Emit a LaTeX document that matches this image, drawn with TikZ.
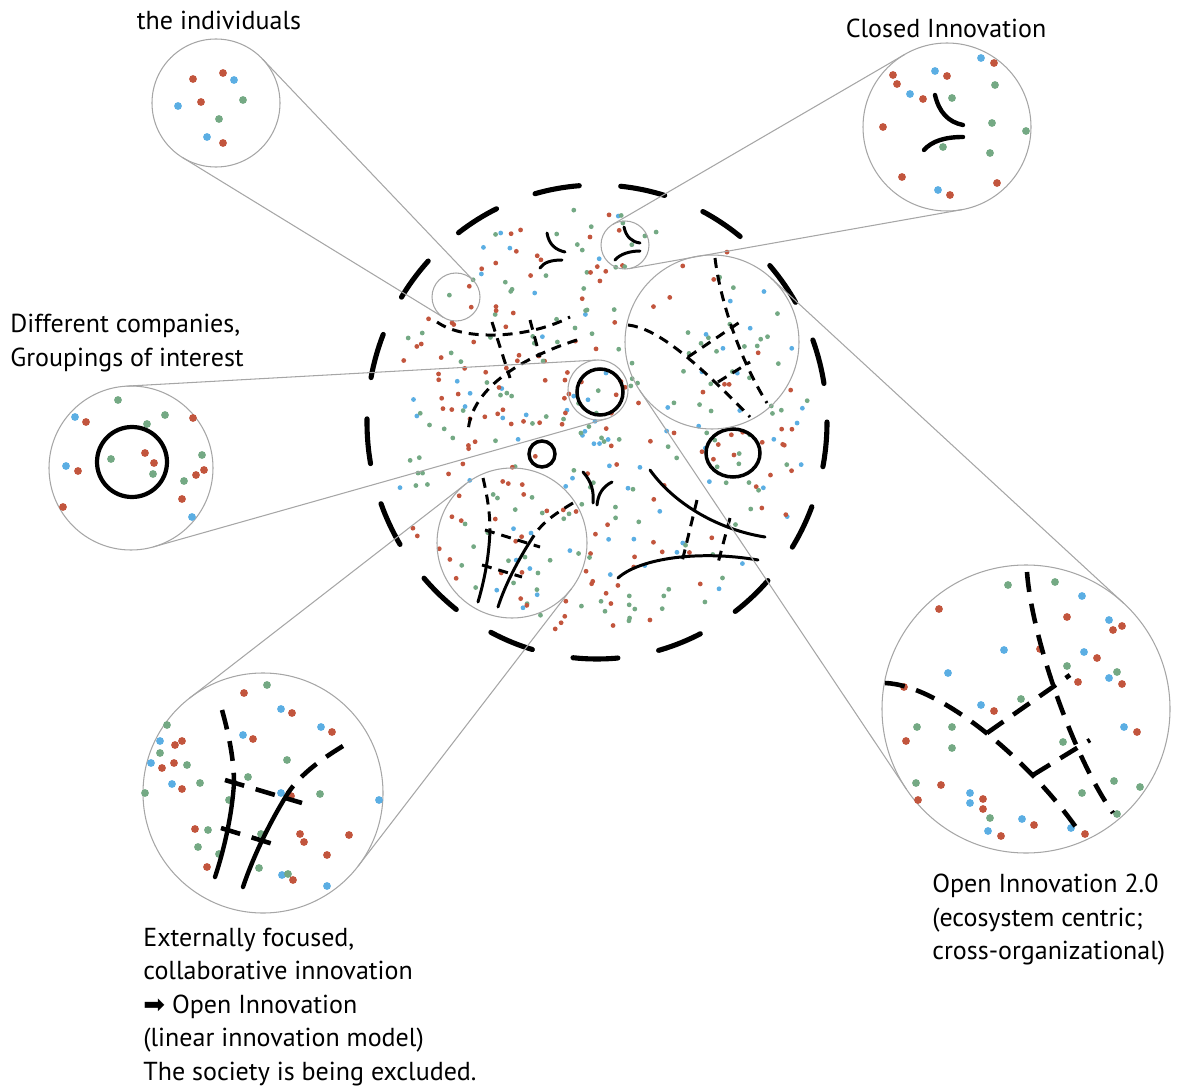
\documentclass[tikz,border=0pt]{standalone}
\usepackage{fontspec}
\setmainfont{PT Sans}
\newfontfamily\arrowglyph{DejaVu Sans}
\usetikzlibrary{calc}

\definecolor{dotr}{HTML}{C2553D}
\definecolor{dotg}{HTML}{74A984}
\definecolor{dotb}{HTML}{5BAEE3}

% tangent lines joining a small lens circle to its magnified copy
\newcommand\lens[4]{%
	\draw[lensline] let \p1=(#1), \p2=(#3),
		\n1={atan2(\y2-\y1,\x2-\x1)},
		\n2={acos((#2-#4)*28.45274/veclen(\x2-\x1,\y2-\y1))} in
		($(#1)+(\n1+\n2:#2cm)$) -- ($(#3)+(\n1+\n2:#4cm)$)
		($(#1)+(\n1-\n2:#2cm)$) -- ($(#3)+(\n1-\n2:#4cm)$);
}

\begin{document}
\begin{tikzpicture}[
			x=0.02cm, y=-0.02cm,
			captext/.style={font=\fontsize{14.8}{19.1}\selectfont, inner sep=0pt},
			lensline/.style={draw=black!35, line width=0.6pt},
			society/.style={line width=2.9pt, line cap=round, dash pattern=on 0.9cm off 0.83cm},
			netdash/.style={line width=1.7pt, dash pattern=on 0.2cm off 0.14cm},
			bignetdash/.style={line width=2.6pt, dash pattern=on 0.4cm off 0.24cm},
			tie/.style={line width=1.7pt, line cap=round},
			bigtie/.style={line width=2.5pt, line cap=round},
			company/.style={line width=2pt},
			bigcompany/.style={line width=2.4pt},
			dot/.style={radius=2.4},
			bigdot/.style={radius=3.9}
		]
		\useasboundingbox (0,0) rectangle (1180,1091);

		% centres of the lenses
		\coordinate (hub) at (597,422);
		\coordinate (indS) at (456,297);
		\coordinate (indB) at (216,103);
		\coordinate (cloS) at (625,245);
		\coordinate (cloB) at (947,127);
		\coordinate (comS) at (598,390);
		\coordinate (comB) at (131,468);
		\coordinate (oiS) at (512,543);
		\coordinate (oiB) at (263,793);
		\coordinate (twoS) at (712,342);
		\coordinate (twoB) at (1026,709);

		% the society: scattered actors
		\pgfmathsetseed{11}
		\pgfmathdeclarerandomlist{dotcols}{{dotr}{dotr}{dotg}{dotg}{dotb}}
		\foreach \i in {1,...,380}{
				\pgfmathsetmacro\ang{360*rnd}
				\pgfmathsetmacro\rad{214*sqrt(rnd)}
				\pgfmathrandomitem\col{dotcols}
				\fill[\col] ($(hub)+(\ang:\rad)$) circle[dot];
			}
		\draw[society] (hub) ellipse[x radius=230, y radius=237];

		% network of ties, upper left
		\draw[netdash] (437,322) .. controls (465,342) and (530,338) .. (570,317);
		\draw[netdash] (492,322) -- (510,378);
		\draw[netdash] (530,320) -- (540,357);
		\draw[netdash] (577,340) .. controls (530,355) and (470,385) .. (468,433);

		% closed innovation
		\draw[tie] (547,233) .. controls (549,245) and (556,250) .. (565,252);
		\draw[tie] (540,268) .. controls (544,262) and (552,260) .. (562,260);
		\draw[tie] (624,227) .. controls (626,237) and (632,242) .. (640,243);
		\draw[tie] (615,260) .. controls (620,254) and (630,251) .. (640,251);

		% companies
		\draw[company] (600,392) circle[radius=23];
		\draw[company] (542,454) circle[radius=13];
		\draw[company] (733,453) ellipse[x radius=27, y radius=24];

		% two bending ties
		\draw[tie] (583,472) .. controls (592,482) and (594,492) .. (593,503);
		\draw[tie] (612,482) .. controls (602,487) and (598,495) .. (597,505);

		% solid ties, lower right
		\draw[tie] (650,470) .. controls (675,505) and (720,530) .. (765,537);
		\draw[tie] (618,578) .. controls (640,558) and (700,550) .. (758,560);
		\draw[netdash] (697,500) -- (682,562);
		\draw[netdash] (730,518) -- (718,563);

		% open innovation, small
		\draw[netdash] (483,478) .. controls (487,495) and (490,512) .. (490,530);
		\draw[tie] (490,530) .. controls (489,560) and (483,585) .. (478,602);
		\draw[netdash] (573,503) .. controls (558,512) and (542,522) .. (533,537);
		\draw[tie] (533,537) .. controls (518,560) and (505,585) .. (498,607);
		\draw[netdash] (485,530) -- (540,547);
		\draw[netdash] (482,565) -- (522,577);

		% open innovation 2.0, small
		\draw[netdash] (628,325) .. controls (655,328) and (690,355) .. (750,417);
		\draw[netdash] (715,258) .. controls (720,300) and (740,360) .. (767,403);
		\draw[netdash] (688,357) -- (740,322);
		\draw[netdash] (718,382) -- (750,362);

		% lenses
		\lens{indS}{0.48}{indB}{1.28}
		\lens{cloS}{0.48}{cloB}{1.68}
		\lens{comS}{0.6}{comB}{1.64}
		\lens{oiS}{1.5}{oiB}{2.4}
		\lens{twoS}{1.74}{twoB}{2.88}
		\draw[lensline] (indS) circle[radius=24];
		\draw[lensline] (cloS) circle[radius=24];
		\draw[lensline] (comS) circle[radius=30];
		\draw[lensline] (oiS) circle[radius=75];
		\draw[lensline] (twoS) circle[radius=87];
		\draw[lensline] (indB) circle[radius=64];
		\draw[lensline] (cloB) circle[radius=84];
		\draw[lensline] (comB) circle[radius=82];
		\draw[lensline] (oiB) circle[radius=120];
		\draw[lensline] (twoB) circle[radius=144];

		% the individuals, magnified
		\foreach \x/\y/\c in {193/79/r, 223/73/r, 234/80/b, 178/106/b, 201/102/r,
				243/100/g, 219/119/g, 207/137/b, 223/143/r}
			\fill[dot\c] (\x,\y) circle[bigdot];

		% closed innovation, magnified
		\foreach \x/\y/\c in {893/75/r, 897/84/r, 935/71/b, 947/76/r, 981/58/b, 994/63/r,
				995/85/g, 910/94/b, 923/99/r, 952/98/g, 883/127/r, 992/123/g, 1026/131/g,
				943/147/g, 990/153/g, 902/177/r, 997/183/r, 938/190/b, 950/195/r}
			\fill[dot\c] (\x,\y) circle[bigdot];
		\draw[bigtie] (935,95) .. controls (939,112) and (948,122) .. (963,125);
		\draw[bigtie] (924,150) .. controls (932,141) and (945,137) .. (963,137);

		% companies, magnified
		\foreach \x/\y/\c in {118/400/g, 75/417/b, 86/422/r, 165/415/g, 193/418/r, 147/424/g,
				111/459/g, 145/453/r, 154/463/r, 153/474/g, 202/455/g, 66/466/b, 78/471/r,
				204/470/r, 196/475/r, 184/481/g, 182/499/r, 63/507/r, 192/517/b}
			\fill[dot\c] (\x,\y) circle[bigdot];
		\draw[bigcompany] (132,462) circle[radius=35];

		% open innovation, magnified
		\foreach \x/\y/\c in {244/693/r, 267/685/g, 281/709/b, 292/713/r, 167/725/g, 160/741/b,
				175/745/r, 182/741/r, 243/735/b, 253/739/r, 321/727/b, 332/732/r, 160/753/g,
				151/763/b, 162/768/r, 174/763/r, 187/765/g, 287/760/g, 248/777/g, 172/784/b,
				182/789/r, 200/783/g, 145/793/g, 229/800/g, 281/793/b, 291/796/r, 320/794/g,
				379/800/b, 195/829/r, 208/830/g, 261/834/g, 300/834/r, 304/842/r, 349/835/r,
				198/847/g, 219/854/g, 327/855/r, 207/867/r, 259/868/g, 282/875/b, 288/874/g,
				293/880/r, 327/886/b}
			\fill[dot\c] (\x,\y) circle[bigdot];
		\draw[bignetdash] (222,710) .. controls (229,735) and (234,760) .. (234,783);
		\draw[bigtie] (234,783) .. controls (232,815) and (224,850) .. (215,877);
		\draw[bignetdash] (343,746) .. controls (320,760) and (300,775) .. (288,793);
		\draw[bigtie] (288,793) .. controls (268,825) and (252,860) .. (243,887);
		\draw[bignetdash] (225,780) -- (302,803);
		\draw[bignetdash] (221,828) -- (273,844);

		% open innovation 2.0, magnified
		\foreach \x/\y/\c in {1008/585/g, 1055/582/g, 1082/596/b, 939/609/r, 1067/617/r,
				1109/620/b, 1113/630/r, 1122/626/r, 1004/650/b, 1040/649/r, 1084/652/b,
				1097/658/r, 948/673/b, 1067/666/g, 1109/678/b, 1117/672/g, 1122/684/r,
				1078/682/r, 904/687/r, 1021/699/g, 981/705/b, 994/711/r, 917/727/g, 952/727/g,
				1124/727/b, 1137/732/r, 906/741/r, 952/748/g, 1063/742/g, 916/783/g, 941/785/r,
				1114/781/g, 1140/787/g, 1082/793/g, 970/793/b, 970/803/b, 983/799/r, 983/809/r,
				918/800/r, 990/818/g, 1022/819/b, 1034/825/r, 988/831/b, 1001/836/r,
				1071/828/b, 1085/834/r, 1117/814/g}
			\fill[dot\c] (\x,\y) circle[bigdot];
		\draw[bignetdash] (885,683) .. controls (940,685) and (1030,760) .. (1080,833);
		\draw[bignetdash] (1027,572) .. controls (1032,640) and (1075,760) .. (1113,813);
		\draw[bignetdash] (987,733) -- (1070,675);
		\draw[bignetdash] (1033,775) -- (1090,740);

		% captions
		\node[captext] (indT) at (219,20) {the individuals};
		\node[captext] (cloT) at (946,28) {Closed Innovation};
		\node[captext, anchor=west, align=left] (comT) at (10,343) {Different companies,\\Groupings of interest};
		\node[captext, anchor=west, align=left] (oiT) at (143,1007) {Externally focused,\\collaborative innovation\\{\arrowglyph ➡} Open Innovation\\(linear innovation model)\\The society is being excluded.};
		\node[captext, anchor=west, align=left] (twoT) at (932,920) {Open Innovation 2.0\\(ecosystem centric;\\cross-organizational)};
	\end{tikzpicture}
\end{document}
